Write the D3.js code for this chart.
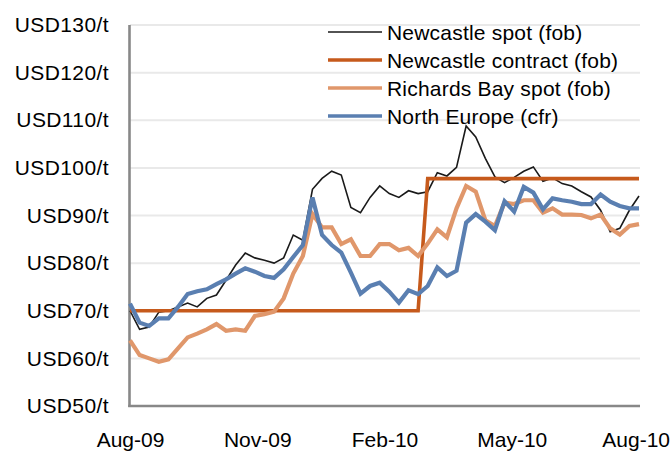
<!DOCTYPE html>
<html>
<head>
<meta charset="utf-8">
<script src="https://cdn.jsdelivr.net/npm/d3@7"></script>
<style>
  body { margin: 0; background: #fff; }
  svg { display: block; }
  text { font-family: "Liberation Sans", Arial, sans-serif; fill: #000; }
</style>
</head>
<body>
<svg id="chart" width="671" height="452"></svg>
<script>
// Weekly thermal coal prices, USD per tonne
const xTickLabels = ["Aug-09", "Nov-09", "Feb-10", "May-10", "Aug-10"];
const yTicks = [50, 60, 70, 80, 90, 100, 110, 120, 130];

const newcastleSpot = [
  70.0, 66.1, 66.6, 69.7, 70.0, 70.8, 71.6, 70.8, 72.6, 73.3,
  76.4, 79.6, 82.1, 81.1, 80.6, 80.0, 81.1, 85.9, 84.8, 95.5,
  97.8, 99.3, 98.5, 91.7, 90.6, 93.8, 96.2, 94.6, 93.8, 95.2,
  94.6, 95.0, 99.0, 98.3, 100.1, 108.8, 106.5, 102.0, 98.1, 96.9,
  98.0, 99.3, 100.2, 97.2, 97.9, 96.7, 96.2, 95.0, 93.9, 91.1,
  86.6, 87.3, 91.1, 94.1
];

const newcastleContract = [
  70, 70, 70, 70, 70, 70, 70, 70, 70, 70,
  70, 70, 70, 70, 70, 70, 70, 70, 70, 70,
  70, 70, 70, 70, 70, 70, 70, 70, 70, 70,
  70, 97.75, 97.75, 97.75, 97.75, 97.75, 97.75, 97.75, 97.75, 97.75,
  97.75, 97.75, 97.75, 97.75, 97.75, 97.75, 97.75, 97.75, 97.75, 97.75,
  97.75, 97.75, 97.75, 97.75
];

const richardsBaySpot = [
  63.8, 60.7, 60.0, 59.3, 59.8, 62.1, 64.4, 65.2, 66.1, 67.2,
  65.8, 66.1, 65.8, 68.9, 69.3, 69.8, 72.6, 77.8, 81.5, 90.3,
  87.5, 87.5, 84.0, 85.0, 81.5, 81.5, 84.0, 84.0, 82.7, 83.2,
  81.5, 84.1, 87.1, 85.4, 91.5, 96.2, 95.0, 89.0, 87.8, 92.7,
  92.4, 93.2, 93.2, 90.6, 91.5, 90.2, 90.2, 90.1, 89.4, 90.2,
  87.3, 86.0, 87.8, 88.2
];

const northEurope = [
  71.5, 67.5, 66.8, 68.4, 68.4, 70.8, 73.5, 74.1, 74.5, 75.6,
  76.6, 77.8, 78.9, 78.2, 77.3, 76.9, 78.7, 81.3, 83.8, 93.8,
  85.9, 83.8, 82.2, 78.0, 73.6, 75.2, 75.9, 74.0, 71.7, 74.3,
  73.5, 75.2, 79.1, 77.3, 78.4, 88.5, 90.3, 88.7, 86.9, 93.0,
  90.8, 96.0, 94.8, 91.3, 93.6, 93.2, 92.9, 92.4, 92.4, 94.4,
  92.9, 92.0, 91.5, 91.5
];

const seriesNames = [
  "Newcastle spot (fob)",
  "Newcastle contract (fob)",
  "Richards Bay spot (fob)",
  "North Europe (cfr)"
];

const series = [
  { name: seriesNames[0], values: newcastleSpot,     color: "#1a1a1a", width: 1.6 },
  { name: seriesNames[1], values: newcastleContract, color: "#c65a1c", width: 3.6 },
  { name: seriesNames[2], values: richardsBaySpot,   color: "#e0976b", width: 4.2 },
  { name: seriesNames[3], values: northEurope,       color: "#5a7fb1", width: 4.2 }
];

const width = 671;
const svg = d3.select("#chart");
const plot = { left: 130, right: 639, top: 25, bottom: 406 };
const n = newcastleSpot.length;

const x = d3.scaleLinear().domain([0, n - 1]).range([plot.left, plot.right]);
const y = d3.scaleLinear().domain([50, 130]).range([plot.bottom, plot.top]);

// horizontal gridlines
svg.append("g")
  .selectAll("line")
  .data(yTicks.filter(v => v > 50))
  .join("line")
  .attr("x1", plot.left).attr("x2", plot.right + 1)
  .attr("y1", d => y(d)).attr("y2", d => y(d))
  .attr("stroke", "#e9e9e9")
  .attr("stroke-width", 2);

// y axis labels
const yAxis = d3.axisLeft(y)
  .tickValues(yTicks)
  .tickSize(0)
  .tickPadding(21)
  .tickFormat(d => `USD${d}/t`);
const gy = svg.append("g").attr("transform", `translate(${plot.left},0)`).call(yAxis);
gy.select(".domain").remove();
gy.selectAll("text")
  .attr("font-size", 21)
  .attr("letter-spacing", 0.4)
  .attr("font-family", "Liberation Sans, Arial, sans-serif")
  .attr("fill", "#000");

// x axis labels at quarterly intervals across the weekly series
const xAxis = d3.axisBottom(x)
  .tickValues(xTickLabels.map((_, k) => k * (n - 1) / (xTickLabels.length - 1)))
  .tickSize(0)
  .tickPadding(26)
  .tickFormat((d, k) => xTickLabels[k]);
const gx = svg.append("g").attr("transform", `translate(0,${plot.bottom})`).call(xAxis);
gx.select(".domain").remove();
gx.selectAll("text")
  .attr("font-size", 21)
  .attr("font-family", "Liberation Sans, Arial, sans-serif")
  .attr("fill", "#000");

// keep the last date label inside the drawing
gx.selectAll(".tick").each(function () {
  const t = d3.select(this).select("text");
  const box = this.getBoundingClientRect();
  const overflow = box.right - (width - 1);
  if (overflow > 0) t.attr("dx", -overflow);
});

// axis frame lines
svg.append("line")
  .attr("x1", plot.left - 0.5).attr("x2", plot.left - 0.5)
  .attr("y1", plot.top).attr("y2", plot.bottom + 1)
  .attr("stroke", "#888").attr("stroke-width", 2.6);
svg.append("line")
  .attr("x1", plot.left - 1.8).attr("x2", plot.right + 1)
  .attr("y1", plot.bottom).attr("y2", plot.bottom)
  .attr("stroke", "#888").attr("stroke-width", 2.6);

// series lines
const line = d3.line()
  .x((d, i) => x(i))
  .y(d => y(d));

svg.append("g")
  .selectAll("path")
  .data(series)
  .join("path")
  .attr("d", d => line(d.values))
  .attr("fill", "none")
  .attr("stroke", d => d.color)
  .attr("stroke-width", d => d.width)
  .attr("stroke-linejoin", "miter")
  .attr("stroke-miterlimit", 3);

// legend
const legend = svg.append("g").attr("transform", "translate(328,32)");
const item = legend.selectAll("g")
  .data(series)
  .join("g")
  .attr("transform", (d, i) => `translate(0,${i * 28})`);
item.append("line")
  .attr("x1", 0).attr("x2", 54)
  .attr("y1", 0).attr("y2", 0)
  .attr("stroke", d => d.color)
  .attr("stroke-width", d => Math.min(d.width, 3.4));
item.append("text")
  .attr("x", 59)
  .attr("y", 0)
  .attr("dy", "0.36em")
  .attr("font-size", 21)
  .attr("letter-spacing", 0.2)
  .text(d => d.name);
</script>
</body>
</html>
